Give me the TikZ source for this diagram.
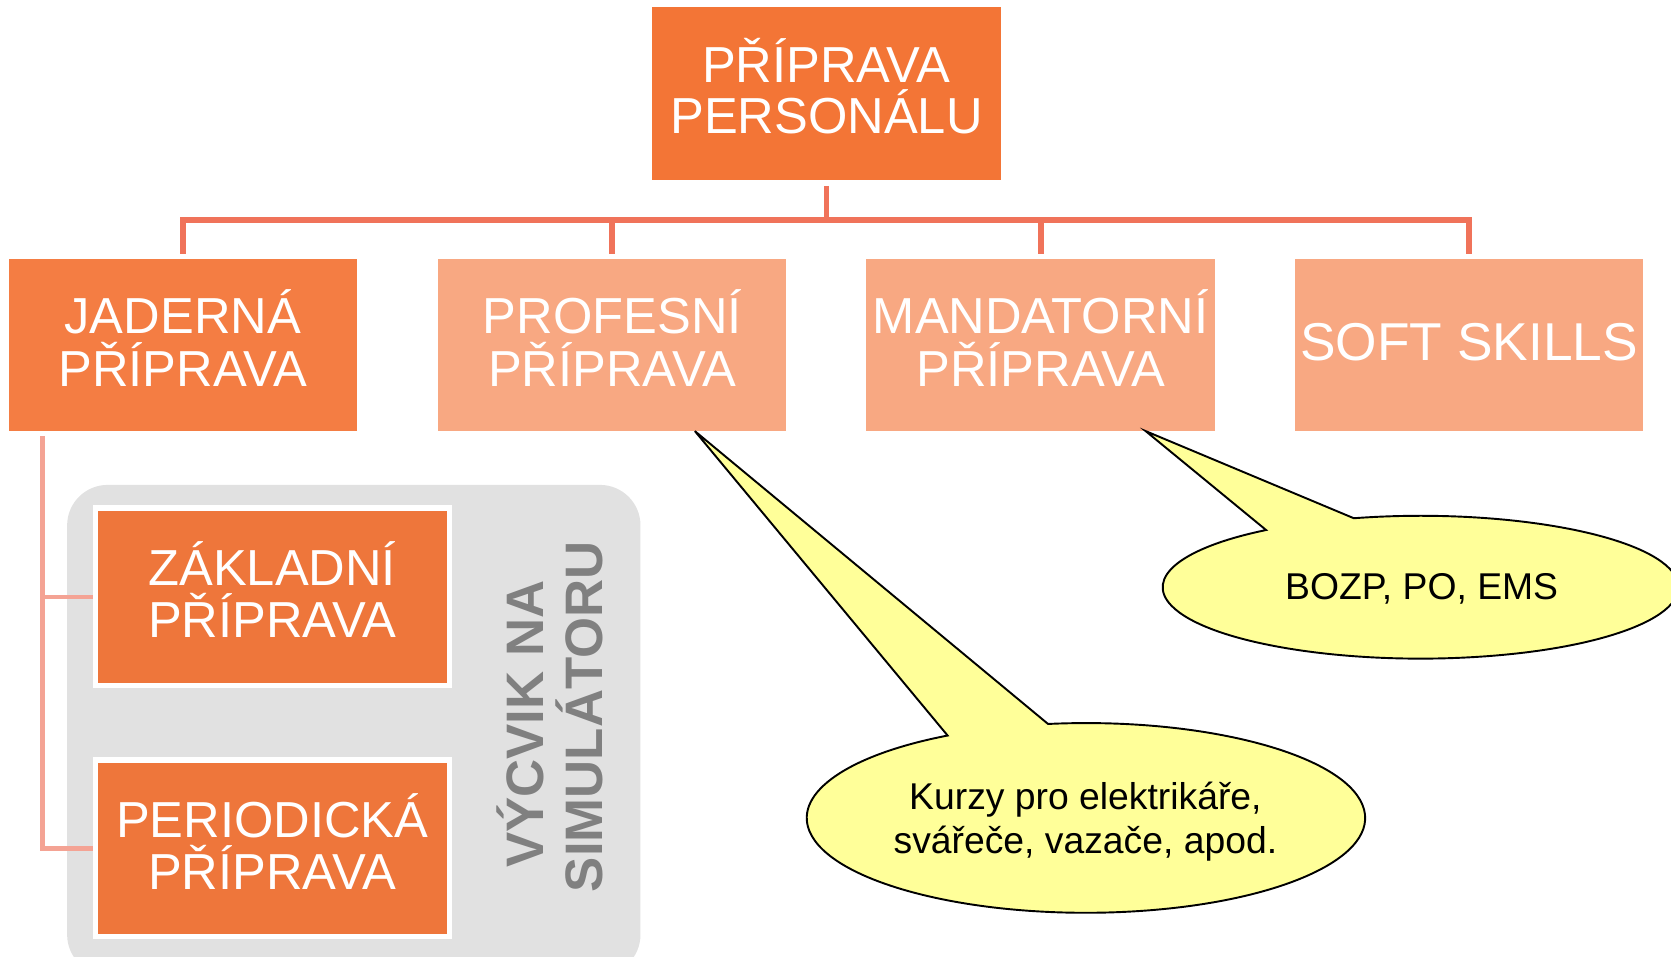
\documentclass[tikz,border=0pt]{standalone}
\usepackage{fontspec}
\setmainfont{Liberation Sans}
\usetikzlibrary{calc}
\definecolor{orgTop}{HTML}{F37536}
\definecolor{orgJad}{HTML}{F47D43}
\definecolor{orgSim}{HTML}{EE763B}
\definecolor{salmon}{HTML}{F8A882}
\definecolor{connA}{HTML}{F0735A}
\definecolor{connB}{HTML}{F4A394}
\definecolor{grayBg}{HTML}{E1E1E1}
\definecolor{grayTxt}{HTML}{808080}
\definecolor{calloutY}{HTML}{FFFF99}
\begin{document}
\begin{tikzpicture}[x=1pt,y=-1pt,
  box/.style={rectangle, inner sep=0, minimum width=327, minimum height=161},
  boxtext/.style={text=white, align=center, inner sep=0, font=\fontsize{47.5}{49}\selectfont},
  conn/.style={draw=connA, line width=5.5, line join=miter},
  simconn/.style={draw=connB, line width=4.2},
  simbox/.style={rectangle, inner sep=0, fill=orgSim, draw=white, line width=5, minimum width=332, minimum height=166.5},
  callout/.style={fill=calloutY, draw=black, line width=1.8, line join=miter},
  callouttext/.style={text=black, align=center, inner sep=0, font=\fontsize{35}{40.7}\selectfont},
  simtextstyle/.style={rotate=90, align=center, inner sep=0, text=grayTxt, font=\bfseries\fontsize{49.5}{55.5}\selectfont},
]
\useasboundingbox (0,0) rectangle (1568,898);

% top box
\node[box, fill=orgTop, minimum height=161.5] (top) at (775.5,87.75) {};
\node[boxtext, font=\fontsize{47.5}{48.5}\selectfont] (toptext) at ([yshift=6.8]top.center) {PŘÍPRAVA\\PERSONÁLU};

% second row
\node[box, fill=orgJad] (jad) at (171.5,323.8) {};
\node[box, fill=salmon] (prof) at (574.5,323.8) {};
\node[box, fill=salmon] (mand) at (976.5,323.8) {};
\node[box, fill=salmon] (soft) at (1378.5,323.8) {};
\node[boxtext] (jadtext) at ([yshift=6.5]jad.center) {JADERNÁ\\PŘÍPRAVA};
\node[boxtext] (proftext) at ([yshift=6.5]prof.center) {PROFESNÍ\\PŘÍPRAVA};
\node[boxtext] (mandtext) at ([yshift=6.5]mand.center) {MANDATORNÍ\\PŘÍPRAVA};
\node[boxtext, font=\fontsize{50}{52}\selectfont] (softtext) at ([yshift=2.5]soft.center) {SOFT SKILLS};

% connectors
\coordinate (bus) at (0,206.4);
\draw[conn] ([yshift=-5.6]top.south) -- (top.south |- bus);
\draw[conn] ([yshift=5]jad.north) -- (jad.north |- bus) -- (soft.north |- bus) -- ([yshift=5]soft.north);
\draw[conn] (prof.north |- bus) -- ([yshift=5]prof.north);
\draw[conn] (mand.north |- bus) -- ([yshift=5]mand.north);

% simulator group
\node[rectangle, fill=grayBg, rounded corners=38, inner sep=0, minimum width=538, minimum height=460] (simgroup) at (332,685) {};
\node[simbox] (zak) at (255.5,560) {};
\node[simbox, minimum height=166] (per) at (255.5,796) {};
\node[boxtext] (zaktext) at ([yshift=6.5]zak.center) {ZÁKLADNÍ\\PŘÍPRAVA};
\node[boxtext] (pertext) at ([yshift=6.5]per.center) {PERIODICKÁ\\PŘÍPRAVA};
\node[simtextstyle] (simtext) at (516,672.5) {VÝCVIK NA\kern0.278em\\SIMULÁTORU};

\coordinate (lbus) at (39.8,409);
\draw[simconn] (lbus) -- (lbus |- per.west) -- (per.west);
\draw[simconn] (lbus |- zak.west) -- (zak.west);

% callouts
\coordinate (tip1) at ([xshift=77.5]prof.south);
\coordinate (c1) at (1019,767.5);
\path[callout] (tip1) -- ($(c1)+(-97.8:262 and 89)$) arc[start angle=-97.8, end angle=240.3, x radius=262, y radius=89] -- cycle;
\node[callouttext] (c1text) at (1018.5,770.9) {Kurzy pro elektrikáře,\\svářeče, vazače, apod.};

\coordinate (tip2) at ([xshift=98.5]mand.south);
\coordinate (c2) at (1333,551);
\path[callout] (tip2) -- ($(c2)+(-105:242 and 67)$) arc[start angle=-105, end angle=233.2, x radius=242, y radius=67] -- cycle;
\node[callouttext] (c2text) at (1334,552.9) {BOZP, PO, EMS};
\end{tikzpicture}
\end{document}
